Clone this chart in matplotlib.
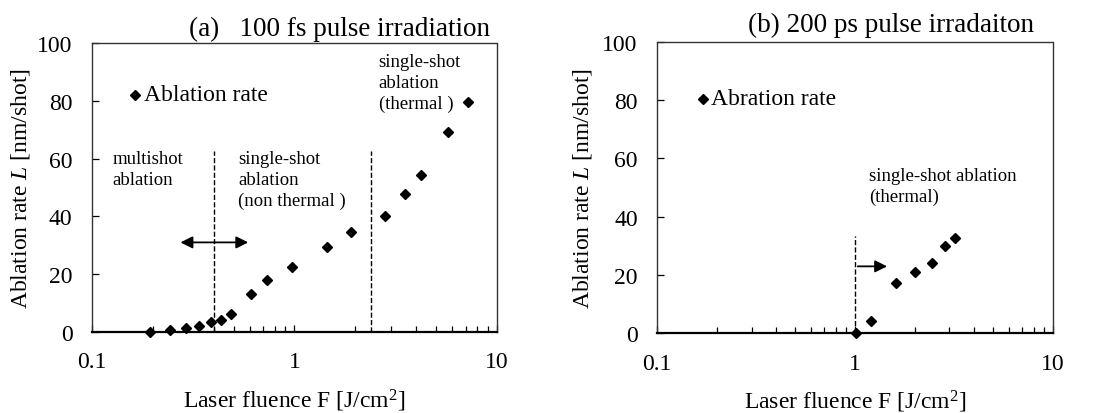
import matplotlib.pyplot as plt
import numpy as np

plt.rcParams['font.family'] = ['Liberation Serif', 'DejaVu Serif']
plt.rcParams['mathtext.fontset'] = 'custom'
plt.rcParams['mathtext.rm'] = 'Liberation Serif'
plt.rcParams['mathtext.it'] = 'Liberation Serif:italic'

# (a) 100 fs pulse irradiation
fluence_fs = [0.193, 0.242, 0.29, 0.337, 0.386, 0.435, 0.486, 0.612, 0.728,
              0.972, 1.446, 1.90, 2.81, 3.53, 4.23, 5.73, 7.17]
rate_fs = [0.0, 0.8, 1.4, 2.0, 3.5, 4.3, 6.2, 13.1, 18.1,
           22.4, 29.4, 34.6, 40.3, 47.6, 54.4, 69.1, 79.5]
bounds_fs = [0.40, 2.38]

# (b) 200 ps pulse irradiation
fluence_ps = [1.01, 1.21, 1.62, 2.02, 2.44, 2.85, 3.22]
rate_ps = [0.2, 4.0, 17.3, 20.8, 24.1, 30.0, 32.6]
bound_ps = 1.0

fig = plt.figure(figsize=(10.99, 4.14), dpi=100)
ax1 = fig.add_axes([0.0837, 0.1957, 0.3685, 0.698])
ax2 = fig.add_axes([0.598, 0.193, 0.360, 0.704])


def style_axes(ax, ylabelpad):
    ax.set_xscale('log')
    ax.set_xlim(0.1, 10)
    ax.set_ylim(0, 100)
    ax.set_xticks([0.1, 1, 10])
    ax.set_xticklabels(['0.1', '1', '10'])
    ax.set_yticks([0, 20, 40, 60, 80, 100])
    for s in ['left', 'top', 'right']:
        ax.spines[s].set_linestyle((0, (1, 1)))
        ax.spines[s].set_linewidth(1.0)
        ax.spines[s].set_color('#333333')
    ax.spines['bottom'].set_linewidth(1.6)
    ax.spines['bottom'].set_color('black')
    ax.tick_params(axis='both', which='major', direction='in', length=5,
                   labelsize=17, width=0.9)
    ax.tick_params(axis='x', which='major', pad=14)
    ax.tick_params(axis='y', which='major', pad=14)
    ax.tick_params(axis='x', which='minor', direction='in', length=4, width=0.9)
    ax.set_xlabel('Laser fluence F [J/cm$^2$]', fontsize=17, labelpad=10)
    ax.set_ylabel('Ablation rate $\\mathit{L}$ [nm/shot]', fontsize=17,
                  labelpad=ylabelpad)


style_axes(ax1, 4)
style_axes(ax2, 6)

mk = dict(marker='D', color='black', markersize=5, linestyle='none',
          clip_on=False, zorder=5)

# left panel
ax1.plot(fluence_fs, rate_fs, **mk)
for b in bounds_fs:
    ax1.plot([b, b], [0, 62.5], color='black', linestyle='--', linewidth=1)
ax1.annotate('', xy=(0.265, 31), xytext=(0.61, 31),
             arrowprops=dict(arrowstyle='<|-|>', color='black', lw=1.3,
                             mutation_scale=18))
ax1.plot([0.164], [82.1], **mk)
ax1.text(0.18, 82.1, 'Ablation rate', fontsize=17, va='center')
ax1.text(0.126, 63, 'multishot\nablation', fontsize=13.5, va='top',
         linespacing=1.3)
ax1.text(0.526, 63, 'single-shot\nablation\n(non thermal )', fontsize=13.5,
         va='top', linespacing=1.3)
ax1.text(2.6, 96.5, 'single-shot\nablation\n(thermal )', fontsize=13.5,
         va='top', linespacing=1.3)
ax1.set_title('(a)   100 fs pulse irradiation', fontsize=19.5, x=0.61, pad=6)

# right panel
ax2.plot(fluence_ps, rate_ps, **mk)
ax2.plot([bound_ps, bound_ps], [0, 33.2], color='black', linestyle='--',
         linewidth=1)
ax2.annotate('', xy=(1.5, 22.9), xytext=(bound_ps, 22.9),
             arrowprops=dict(arrowstyle='-|>', color='black', lw=1.3,
                             mutation_scale=18))
ax2.plot([0.17], [80.4], **mk)
ax2.text(0.188, 80.4, 'Abration rate', fontsize=17, va='center')
ax2.text(1.18, 57, 'single-shot ablation\n(thermal)', fontsize=13.5,
         va='top', linespacing=1.3)
ax2.set_title('(b) 200 ps pulse irradaiton', fontsize=19.5, x=0.59, pad=8)

fig.savefig('out.png', dpi=100)
